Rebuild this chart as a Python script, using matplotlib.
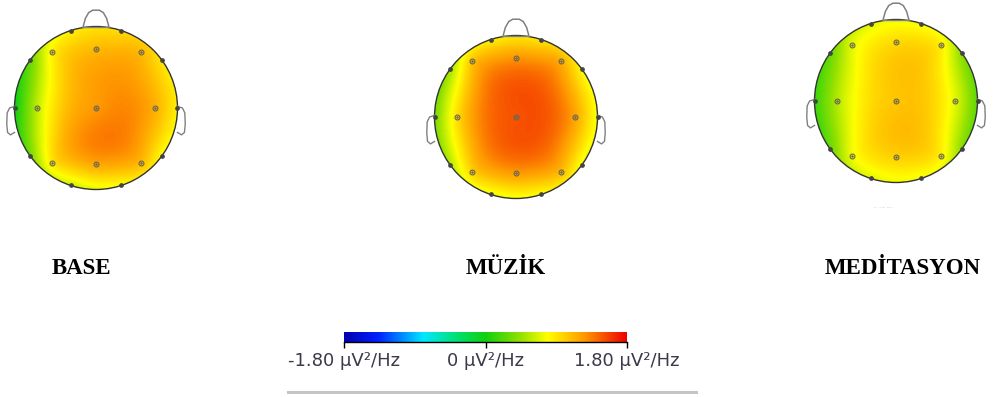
import matplotlib
matplotlib.use('Agg')
import matplotlib.pyplot as plt
import numpy as np
from matplotlib.colors import LinearSegmentedColormap
from matplotlib.patches import Circle, Rectangle

# 10-20 electrode layout (head radius = 1)
channels = ['Fp1', 'Fp2', 'F7', 'F3', 'Fz', 'F4', 'F8', 'T3', 'C3', 'Cz',
            'C4', 'T4', 'T5', 'P3', 'Pz', 'P4', 'T6', 'O1', 'O2']
ch_x = np.array([-0.31, 0.31, -0.81, -0.54, 0.0, 0.55, 0.81, -1.0, -0.72, 0.0,
                 0.72, 1.0, -0.81, -0.54, 0.0, 0.55, 0.81, -0.31, 0.31])
ch_y = np.array([0.95, 0.95, 0.59, 0.69, 0.73, 0.69, 0.59, 0.0, 0.0, 0.0,
                 0.0, 0.0, -0.59, -0.68, -0.69, -0.68, -0.59, -0.95, -0.95])
on_rim = np.array([1, 1, 1, 0, 0, 0, 1, 1, 0, 0, 0, 1, 1, 0, 0, 0, 1, 1, 1], dtype=bool)

# band power per channel, uV^2/Hz
base = [0.85, 0.95, 0.3, 0.85, 1.1, 1.1, 0.9, 0.0, 0.6, 1.25,
        1.15, 0.85, 0.35, 0.9, 1.2, 1.1, 0.8, 0.65, 0.8]
muzik = [0.85, 0.9, 0.5, 1.05, 1.25, 1.15, 0.8, 0.35, 0.95, 1.5,
         1.2, 0.75, 0.55, 1.0, 1.25, 1.1, 0.75, 0.75, 0.8]
meditasyon = [0.7, 0.75, 0.3, 0.7, 0.95, 0.85, 0.4, 0.15, 0.55, 1.05,
              0.7, 0.25, 0.3, 0.75, 1.0, 0.85, 0.4, 0.7, 0.75]

titles = ['BASE', 'MÜZİK', 'MEDİTASYON']
vmin, vmax = -1.8, 1.8
cbar_ticks = [-1.8, 0, 1.8]
cbar_labels = ['-1.80 µV²/Hz', '0 µV²/Hz', '1.80 µV²/Hz']

cmap = LinearSegmentedColormap.from_list('topo', [
    (0.0, '#0000b0'), (0.12, '#0020ff'), (0.28, '#00e8ff'), (0.4, '#00e070'),
    (0.5, '#10d010'), (0.62, '#90e000'), (0.72, '#ffff00'), (0.85, '#ff9900'),
    (1.0, '#ee0000')])


def tps(px, py, v, gx, gy):
    # thin plate spline through the channel values
    def kern(d):
        with np.errstate(divide='ignore', invalid='ignore'):
            k = d ** 2 * np.log(d)
        return np.nan_to_num(k)
    n = len(px)
    d = np.hypot(px[:, None] - px[None, :], py[:, None] - py[None, :])
    A = np.zeros((n + 3, n + 3))
    A[:n, :n] = kern(d)
    P = np.column_stack([np.ones(n), px, py])
    A[:n, n:] = P
    A[n:, :n] = P.T
    b = np.concatenate([v, np.zeros(3)])
    w = np.linalg.solve(A, b)
    dg = np.hypot(gx[..., None] - px, gy[..., None] - py)
    return kern(dg) @ w[:n] + w[n] + w[n + 1] * gx + w[n + 2] * gy


fig = plt.figure(figsize=(10, 3.97), dpi=100)
W, H = 1000, 397

centers = [(96, 108), (516, 117), (896, 101)]
radius = 81.5
span = 1.3
title_pos = [(82, 269), (506, 269), (903, 269)]

gx, gy = np.meshgrid(np.linspace(-1, 1, 301), np.linspace(-1, 1, 301))

for (cx, cy), vals, title, tp in zip(centers, [base, muzik, meditasyon], titles, title_pos):
    size = 2 * span * radius
    ax = fig.add_axes([(cx - size / 2) / W, (H - cy - size / 2) / H, size / W, size / H])
    ax.set_xlim(-span, span)
    ax.set_ylim(-span, span)
    ax.axis('off')

    z = tps(ch_x, ch_y, np.array(vals), gx, gy)
    im = ax.imshow(z, extent=(-1, 1, -1, 1), origin='lower', cmap=cmap,
                   vmin=vmin, vmax=vmax, interpolation='bilinear')
    clip = Circle((0, 0), 1.0, transform=ax.transData)
    im.set_clip_path(clip)

    # nose and ears
    nx = np.array([-0.16, -0.13, -0.09, -0.04, 0.04, 0.09, 0.13, 0.16])
    ny = np.array([0.99, 1.1, 1.17, 1.2, 1.2, 1.17, 1.1, 0.99])
    ax.plot(nx, ny, color='#808080', lw=1.1)
    ax.plot([-0.16, 0.16], [0.99, 0.99], color='#808080', lw=1.0)
    ex = np.array([-1.0, -1.06, -1.09, -1.095, -1.085, -1.05, -1.0])
    ey = np.array([0.02, 0.0, -0.06, -0.2, -0.3, -0.33, -0.3])
    ax.plot(ex, ey, color='#808080', lw=1.0)
    ax.plot(-ex, ey, color='#808080', lw=1.0)

    ax.add_patch(Circle((0, 0), 1.0, fill=False, ec='#333333', lw=1.0))

    ax.plot(ch_x[~on_rim], ch_y[~on_rim], 'o', ms=3.5, mfc='none', mec='#666655', mew=0.8)
    ax.plot(ch_x[~on_rim], ch_y[~on_rim], '.', ms=1.5, color='#666655')
    ax.plot(ch_x[on_rim], ch_y[on_rim], 'o', ms=2.4, color='#444444')

    fig.text(tp[0] / W, 1 - tp[1] / H, title, ha='center', va='center',
             family='Liberation Serif', weight='bold', fontsize=16.5)

# small scale caption under the last head
fig.text(883 / W, 1 - 208 / H, '·· · ···· ·····', ha='center', va='center',
         fontsize=3, color='#888888')

# colour bar
cax = fig.add_axes([344 / W, (H - 342) / H, 283 / W, 10 / H])
grad = np.linspace(vmin, vmax, 512)[None, :]
cax.imshow(grad, aspect='auto', cmap=cmap, vmin=vmin, vmax=vmax,
           extent=(vmin, vmax, 0, 1))
for s in ['top', 'left', 'right']:
    cax.spines[s].set_visible(False)
cax.spines['bottom'].set_linewidth(1.0)
cax.set_yticks([])
cax.set_xticks(cbar_ticks)
cax.set_xticklabels(cbar_labels, family='DejaVu Sans', fontsize=13, color='#3a3a4a')
cax.tick_params(axis='x', length=4, width=1.0, pad=3)

fig.add_artist(Rectangle((287 / W, (H - 394) / H), 411 / W, 3 / H,
                         transform=fig.transFigure, color='#c4c4c4', lw=0))

fig.savefig('out.png', dpi=100)
